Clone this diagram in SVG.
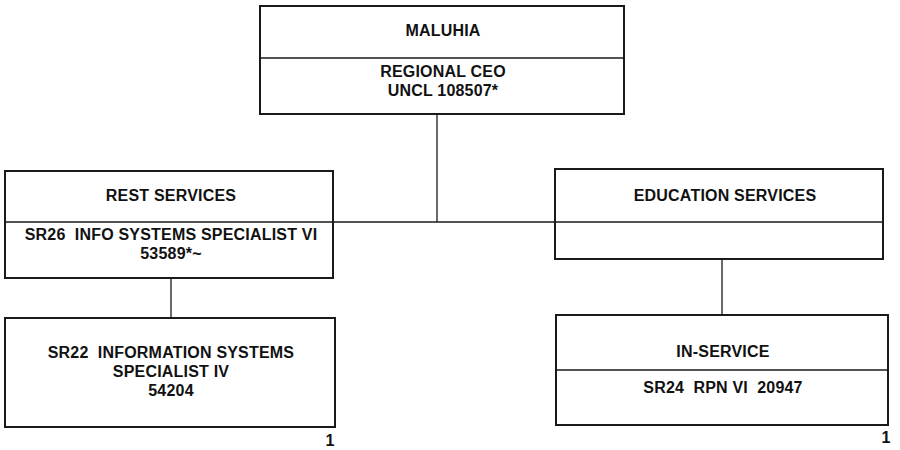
<svg xmlns="http://www.w3.org/2000/svg" width="900" height="450" viewBox="0 0 900 450">
<style>
.box{fill:#ffffff;stroke:#1a1a1a;stroke-width:2}
.div{stroke:#1a1a1a;stroke-width:1.3}
.ln{stroke:#1a1a1a;stroke-width:1.3;fill:none}
text{font-family:"Liberation Sans",Arial,sans-serif;font-weight:bold;font-size:16px;letter-spacing:0.2px;fill:#111;text-anchor:middle}
</style>
<rect width="900" height="450" fill="#ffffff"/>
<g id="connectors">
<line class="ln" x1="437" y1="114" x2="437" y2="222"/>
<line class="ln" x1="333" y1="222" x2="555" y2="222"/>
<line class="ln" x1="171" y1="278" x2="171" y2="318"/>
<line class="ln" x1="722" y1="259" x2="722" y2="315"/>
</g>
<g id="maluhia">
<rect class="box" x="260" y="6" width="364" height="108"/>
<line class="div" x1="260" y1="58" x2="624" y2="58"/>
<text x="443" y="36">MALUHIA</text>
<text x="443" y="77">REGIONAL CEO</text>
<text x="443" y="96">UNCL 108507*</text>
</g>
<g id="rest">
<rect class="box" x="5" y="171" width="328" height="107"/>
<line class="div" x1="5" y1="222" x2="333" y2="222"/>
<text x="171" y="201">REST SERVICES</text>
<text x="171" y="240" xml:space="preserve">SR26  INFO SYSTEMS SPECIALIST VI</text>
<text x="171" y="259">53589*~</text>
</g>
<g id="education">
<rect class="box" x="555" y="169" width="328" height="90"/>
<line class="div" x1="555" y1="222" x2="883" y2="222"/>
<text x="725" y="201">EDUCATION SERVICES</text>
</g>
<g id="sr22">
<rect class="box" x="5" y="318" width="330" height="109"/>
<text x="171" y="358" xml:space="preserve">SR22  INFORMATION SYSTEMS</text>
<text x="171" y="377">SPECIALIST IV</text>
<text x="171" y="396">54204</text>
</g>
<g id="inservice">
<rect class="box" x="556" y="315" width="332" height="110"/>
<line class="div" x1="556" y1="370" x2="888" y2="370"/>
<text x="723" y="357">IN-SERVICE</text>
<text x="723" y="393" xml:space="preserve">SR24  RPN VI  20947</text>
</g>
<text x="330" y="446">1</text>
<text x="886" y="443">1</text>
</svg>
